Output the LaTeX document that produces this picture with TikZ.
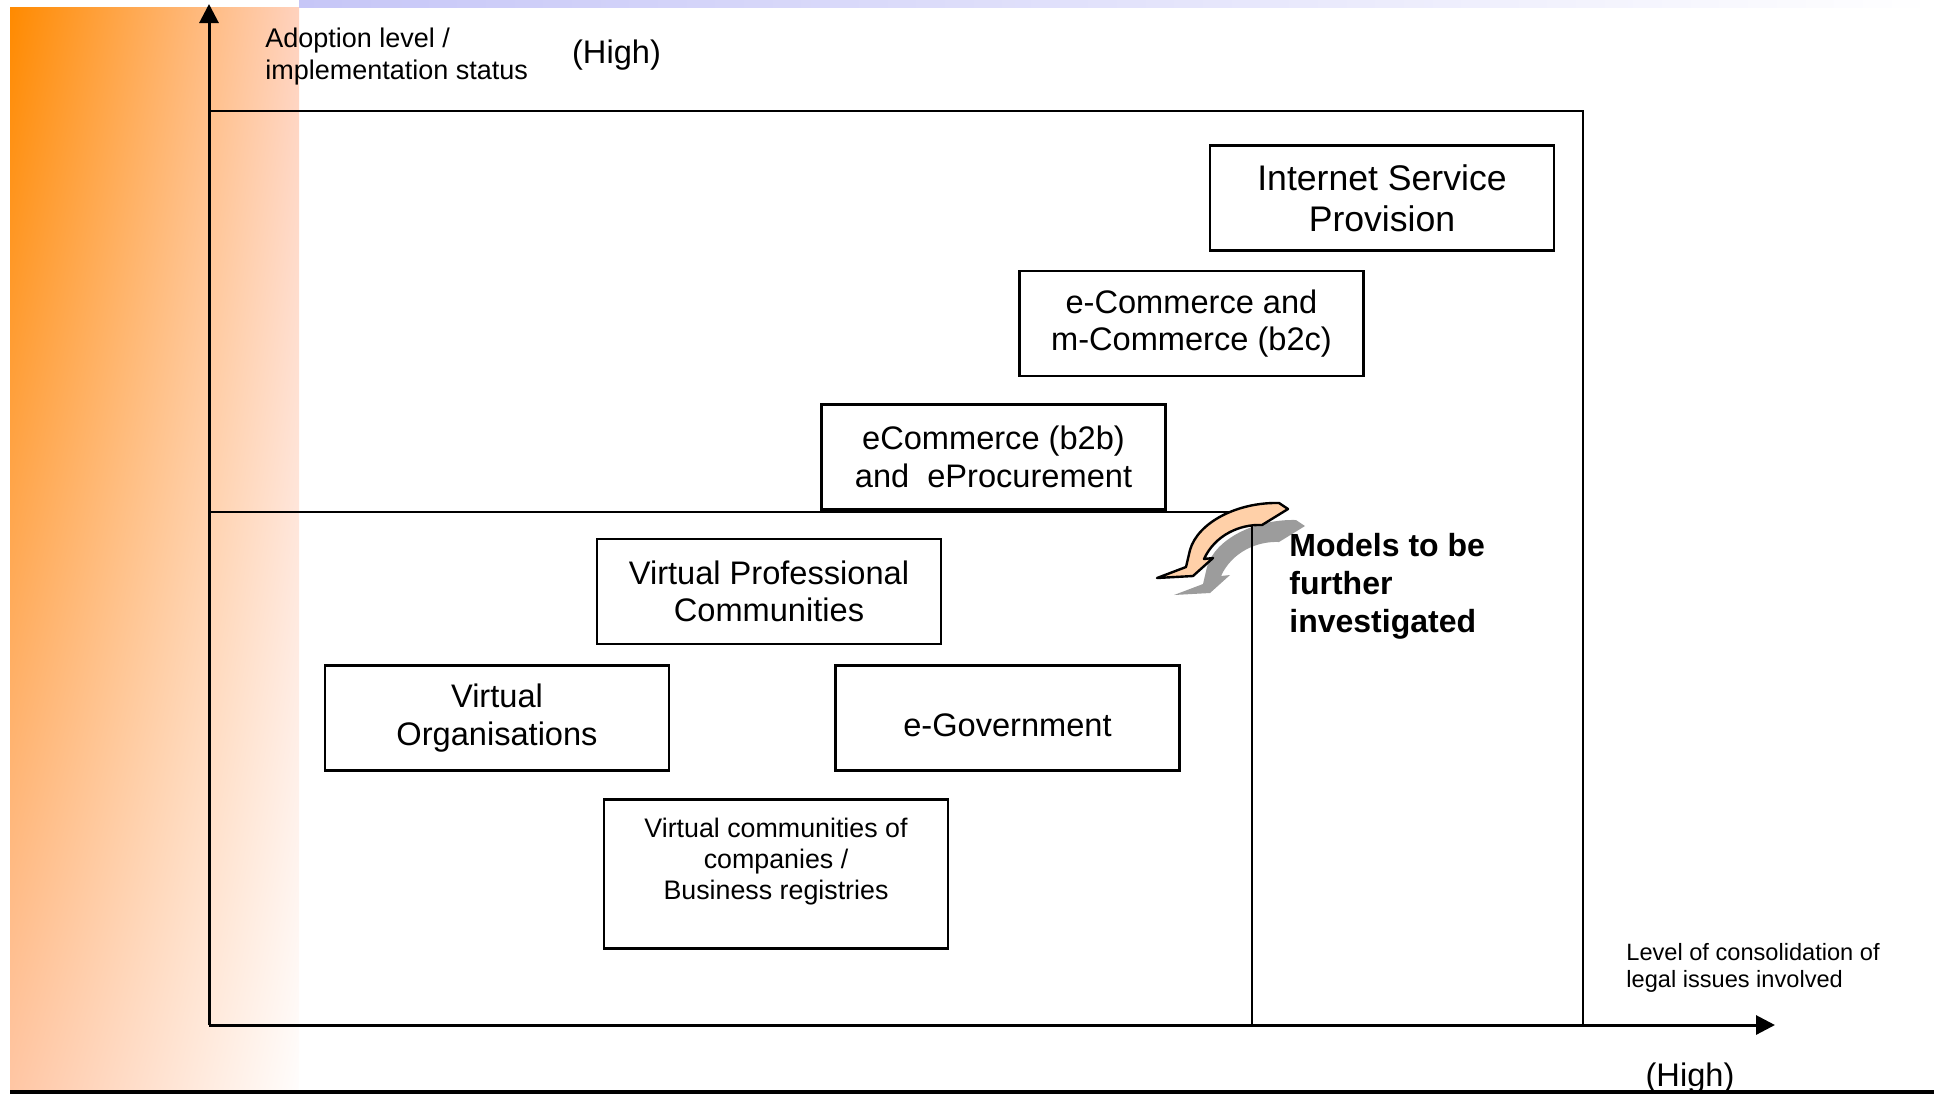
\documentclass[tikz,border=0pt]{standalone}
\usepackage{fontspec}
\setmainfont{Liberation Sans}
\usetikzlibrary{arrows.meta,shadings}
\definecolor{orA}{HTML}{FF8A00}
\definecolor{orB}{HTML}{FFD2BE}
\definecolor{orC}{HTML}{FFC6A4}
\definecolor{orD}{HTML}{FFFDFC}
\definecolor{lavA}{HTML}{C6C6F7}
\definecolor{lavB}{HTML}{E2E2FB}
\definecolor{peach}{HTML}{FFD0A8}
\definecolor{shadowgray}{HTML}{9C9C9C}
\tikzset{
  modelbox/.style={draw=black, line width=1.1pt, fill=none, minimum width=172pt, minimum height=52.5pt, inner sep=0pt, align=center, font=\fontsize{16.3}{18.8}\selectfont},
  axisline/.style={line width=1.5pt, -{Triangle[length=9.5pt,width=9.5pt]}},
  frameline/.style={line width=1pt},
  smalllabel/.style={inner sep=0pt, align=left, anchor=west},
}
\begin{document}
\begin{tikzpicture}[x=0.5pt,y=-0.5pt]
\useasboundingbox (0,0) rectangle (1934,1094);
% background decoration
\shade[upper left=orA, upper right=orB, lower left=orC, lower right=orD] (10,7) rectangle (299,1090);
\shade[left color=lavA, middle color=lavB, right color=white] (299,0) rectangle (1934,7.5);

% coordinates
\coordinate (O) at (209,1025);
\coordinate (ytip) at (209,4);
\coordinate (xtip) at (1775,1025);
\coordinate (TL) at (209,111);
\coordinate (TR) at (1583,111);
\coordinate (BR) at (1583,1025);
\coordinate (IL) at (209,512);
\coordinate (IR) at (1252,512);
\coordinate (IB) at (1252,1025);
\coordinate (BL1) at (10,1092);
\coordinate (BL2) at (1934,1092);

% shadow arrow
\fill[shadowgray, shift={(17,17)}] (1157,578) -- (1193,576) -- (1213,558) -- (1204,559)
  .. controls (1215,535) and (1240,524) .. (1262,525) -- (1288,509) -- (1279,503)
  .. controls (1238,502) and (1198,522) .. (1190,550) -- (1186,567) -- cycle;

% frame lines
\draw[frameline] (TL) -- (TR) -- (BR);
\draw[frameline] (IL) -- (IR) -- (IB);
\draw[axisline] (O) -- (ytip);
\draw[axisline] (O) -- (xtip);
\draw[line width=1.6pt] (BL1) -- (BL2);

% peach arrow
\filldraw[fill=peach, draw=black, line width=1.2pt, line join=round] (1157,578) -- (1193,576) -- (1213,558) -- (1204,559)
  .. controls (1215,535) and (1240,524) .. (1262,525) -- (1288,509) -- (1279,503)
  .. controls (1238,502) and (1198,522) .. (1190,550) -- (1186,567) -- cycle;

% boxes
\node[modelbox, font=\fontsize{17.8}{20.4}\selectfont] (isp) at (1382,198) {Internet Service\\Provision};
\node[modelbox] (b2c) at (1191.5,323.5) {e-Commerce and\\m-Commerce (b2c)};
\node[modelbox] (b2b) at (993.5,457) {eCommerce (b2b)\\and~~eProcurement};
\node[modelbox] (vpc) at (769,591.5) {Virtual Professional\\Communities};
\node[modelbox] (vo) at (497,718) {Virtual\\Organisations};
\node[modelbox] (egov) at (1007.5,718) {\mbox{}\\e-Government};
\node[modelbox, minimum height=74.5pt, font=\fontsize{13.4}{15.4}\selectfont] (vcc) at (776,874) {Virtual communities of\\companies /\\Business registries\\\mbox{}};

% labels
\node[smalllabel, font=\fontsize{13.5}{16}\selectfont] (ylab) at (265,57) {Adoption level /\\implementation status};
\node[inner sep=0pt, font=\fontsize{16.3}{19}\selectfont] (yhigh) at (616.5,55.5) {(High)};
\node[smalllabel, font=\fontsize{11.8}{13.6}\selectfont] (xlab) at (1626,968) {Level of consolidation of\\legal issues involved};
\node[inner sep=0pt, font=\fontsize{16.3}{19}\selectfont] (xhigh) at (1690,1078.5) {(High)};
\node[smalllabel, font=\bfseries\fontsize{16}{19}\selectfont] (models) at (1289,586) {Models to be\\further\\investigated};
\end{tikzpicture}
\end{document}
